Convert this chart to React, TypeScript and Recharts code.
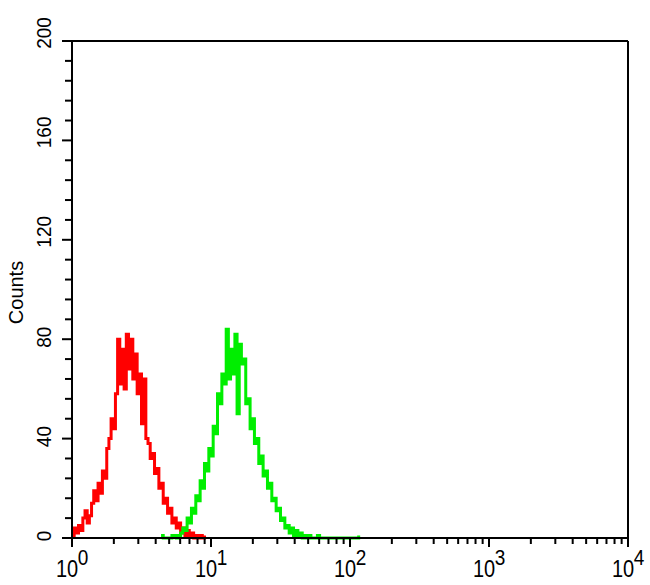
import React from 'react';
import { LineChart, Line, XAxis, YAxis, ReferenceLine } from 'recharts';

// Histogram channels: 256 channels over 4 log decades (64 channels per decade)
const channelsPerDecade = 64;
const totalChannels = 256;

const redStart = 0;
const redCounts = [
  1, 4, 2, 5, 3, 8, 11, 6, 9, 14,
  19, 15, 22, 18, 27, 24, 36, 40, 48, 44,
  58, 80, 62, 76, 60, 82, 68, 80, 64, 74,
  58, 66, 46, 64, 40, 38, 32, 34, 26, 28,
  20, 22, 14, 16, 10, 12, 6, 8, 4, 6,
  2, 4, 1, 3, 1, 2, 0, 1, 0, 1,
  0, 1,
];

const greenStart = 41;
const greenCounts = [
  1, 0, 0, 0, 0, 1, 1, 0, 1, 2,
  4, 3, 8, 6, 12, 10, 17, 15, 23, 20,
  30, 27, 36, 33, 45, 42, 58, 54, 66, 62,
  84, 64, 76, 66, 82, 50, 78, 70, 72, 54,
  56, 44, 48, 38, 40, 30, 33, 25, 27, 20,
  22, 15, 16, 11, 12, 7, 8, 4, 5, 2,
  4, 1, 3, 1, 2, 0, 1, 0, 1, 0,
  0, 0, 1, 0, 0, 0, 0, 0, 0, 0,
  0, 0, 0, 0, 0, 0, 0, 0, 0, 0,
  0, 1,
];

const decadeExponents = ['0', '1', '2', '3', '4'];
const minorMultipliers = [2, 3, 4, 5, 6, 7, 8, 9];
const yTicks = [0, 8, 16, 24, 32, 40, 48, 56, 64, 72, 80, 88, 96, 104, 112, 120, 128, 136, 144, 152, 160, 168, 176, 184, 192, 200];
const yMajorTicks = [0, 40, 80, 120, 160, 200];

const lastChannel = Math.max(redStart + redCounts.length, greenStart + greenCounts.length);
const data: { ch: number; red: number | null; green: number | null }[] = [];
for (let ch = 0; ch <= lastChannel; ch++) {
  const ri = ch - redStart;
  const gi = ch - greenStart;
  data.push({
    ch,
    red: ri >= 0 && ri < redCounts.length ? redCounts[ri] : null,
    green: gi >= 0 && gi < greenCounts.length ? greenCounts[gi] : null,
  });
}

const xTicks: number[] = [];
decadeExponents.forEach((_, d) => {
  xTicks.push(d * channelsPerDecade);
  if (d < decadeExponents.length - 1) {
    minorMultipliers.forEach((m) => xTicks.push((d + Math.log10(m)) * channelsPerDecade));
  }
});

const FONT = '"Liberation Sans", Arial, Helvetica, sans-serif';

const XTick = (props: any) => {
  const { x, y, payload } = props;
  const v = payload.value / channelsPerDecade;
  const isMajor = Math.abs(v - Math.round(v)) < 1e-6;
  return (
    <g>
      <line x1={x} y1={y} x2={x} y2={y + (isMajor ? 9 : 6)} stroke="#000" strokeWidth={2} />
      {isMajor && (
        <g transform={`translate(${x},${y + 39}) scale(1,1.18)`}>
          <text x={-5} y={0} textAnchor="middle" fontFamily={FONT} fontSize={20} fill="#000">10</text>
          <text x={11} y={-10} textAnchor="middle" fontFamily={FONT} fontSize={19} fill="#000">
            {decadeExponents[Math.round(v)]}
          </text>
        </g>
      )}
    </g>
  );
};

const YTick = (props: any) => {
  const { x, y, payload } = props;
  const isMajor = yMajorTicks.includes(payload.value);
  const label = String(payload.value);
  const dy = label.length >= 3 ? -8 : -2;
  const lx = 51;
  const ly = y + dy;
  return (
    <g>
      <line x1={x - (isMajor ? 10 : 7)} y1={y} x2={x} y2={y} stroke="#000" strokeWidth={2} />
      {isMajor && (
        <g transform={`translate(${lx},${ly}) rotate(-90) scale(1,1.1)`}>
          <text x={0} y={0} textAnchor="middle" fontFamily={FONT} fontSize={19} fill="#000">
            {label}
          </text>
        </g>
      )}
    </g>
  );
};

const CountsLabel = (props: any) => {
  const vb = props.viewBox || {};
  const cx = 23;
  const cy = (vb.y ?? 41) + (vb.height ?? 497) / 2 + 3;
  return (
    <text
      x={cx}
      y={cy}
      transform={`rotate(-90 ${cx} ${cy})`}
      textAnchor="middle"
      fontFamily={FONT}
      fontSize={20}
      fill="#000"
    >
      Counts
    </text>
  );
};

export default function App() {
  return (
    <div style={{ position: 'absolute', left: 0, top: 0, width: 650, height: 585, background: '#fff' }}>
      <LineChart width={650} height={585} data={data} margin={{ top: 41, right: 22, bottom: 0, left: 0 }}>
        <XAxis
          type="number"
          dataKey="ch"
          domain={[0, totalChannels]}
          ticks={xTicks}
          interval={0}
          tick={<XTick />}
          tickLine={false}
          tickSize={0}
          tickMargin={0}
          height={47}
          axisLine={{ stroke: '#000', strokeWidth: 2 }}
          allowDataOverflow
        />
        <YAxis
          type="number"
          domain={[0, 200]}
          ticks={yTicks}
          interval={0}
          tick={<YTick />}
          tickLine={false}
          tickSize={0}
          tickMargin={0}
          width={72}
          axisLine={{ stroke: '#000', strokeWidth: 2 }}
          label={<CountsLabel />}
        />
        <ReferenceLine y={200} stroke="#000" strokeWidth={2} />
        <ReferenceLine x={totalChannels} stroke="#000" strokeWidth={2} />
        <Line
          type="stepAfter"
          dataKey="red"
          stroke="#ff0000"
          strokeWidth={3}
          dot={false}
          isAnimationActive={false}
          connectNulls={false}
        />
        <Line
          type="stepAfter"
          dataKey="green"
          stroke="#00ee00"
          strokeWidth={3}
          dot={false}
          isAnimationActive={false}
          connectNulls={false}
        />
      </LineChart>
    </div>
  );
}
